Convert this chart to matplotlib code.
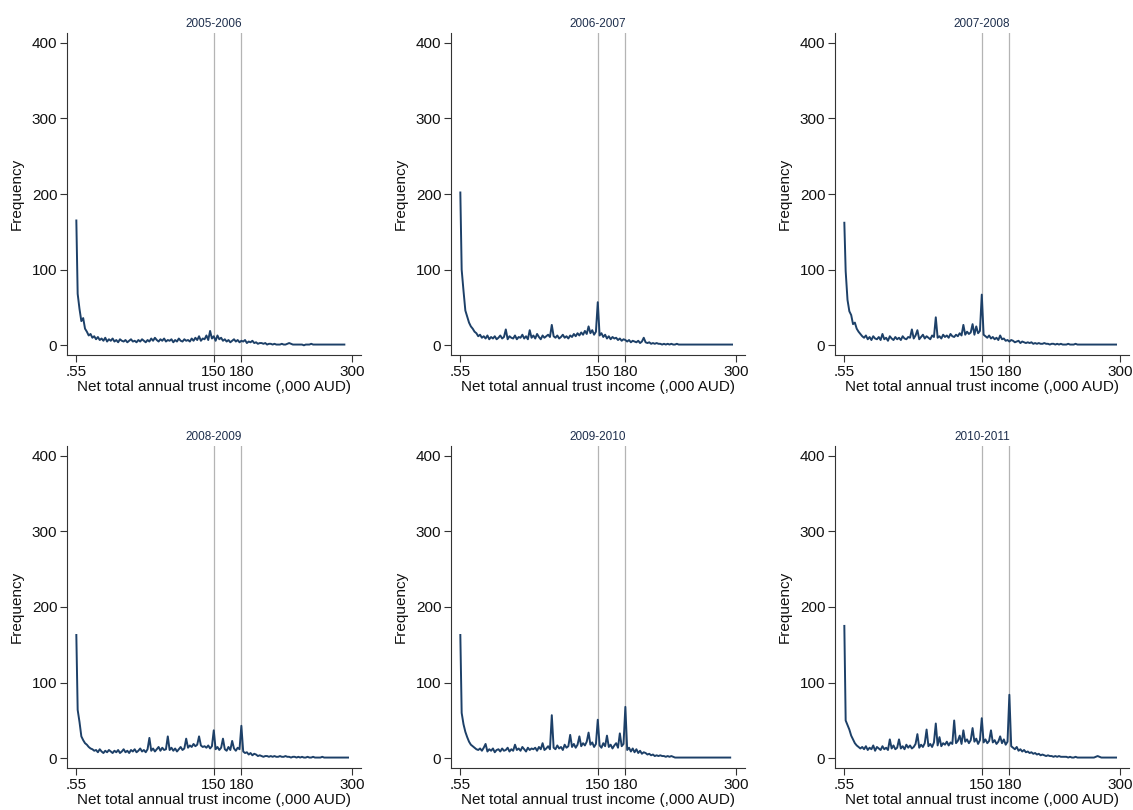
import matplotlib
matplotlib.use("Agg")
import matplotlib.pyplot as plt
import numpy as np

plt.rcParams["font.family"] = ["Liberation Sans", "DejaVu Sans"]

# income bins (,000 AUD): first bin at .55, then every 2
income = np.concatenate([[0.55], np.arange(2, 298, 2)])

years = ["2005-2006", "2006-2007", "2007-2008", "2008-2009", "2009-2010", "2010-2011"]

freq_0506 = [
    165,
    68, 48, 32, 36, 22, 18, 13, 15, 10, 12,
    8, 11, 7, 9, 6, 10, 5, 8, 6, 9,
    5, 7, 4, 8, 6, 5, 7, 4, 6, 8,
    5, 6, 4, 7, 5, 8, 6, 4, 7, 5,
    9, 6, 10, 7, 5, 8, 6, 9, 5, 7,
    6, 8, 4, 7, 5, 9, 6, 5, 8, 6,
    7, 5, 9, 6, 10, 7, 12, 6, 9, 8,
    13, 7, 19, 9, 12, 6, 13, 8, 10, 6,
    8, 5, 7, 4, 6, 8, 5, 7, 4, 6,
    5, 7, 3, 5, 4, 6, 3, 4, 2, 3,
    3, 2, 3, 1, 2, 2, 1, 2, 1, 1,
    1, 2, 1, 1, 2, 3, 2, 1, 1, 1,
    1, 1, 1, 0, 1, 1, 1, 2, 1, 1,
    1, 1, 1, 1, 1, 1, 1, 1, 1, 1,
    1, 1, 1, 1, 1, 1,
]
freq_0607 = [
    202,
    100, 72, 46, 38, 30, 25, 22, 18, 16, 12,
    14, 10, 12, 9, 13, 8, 11, 9, 12, 8,
    10, 13, 9, 11, 21, 8, 12, 10, 9, 13,
    8, 11, 10, 14, 9, 12, 8, 20, 10, 13,
    9, 15, 11, 8, 13, 10, 12, 14, 11, 27,
    12, 10, 13, 9, 11, 14, 10, 12, 9, 13,
    11, 15, 12, 16, 13, 17, 14, 19, 15, 25,
    16, 20, 14, 18, 57, 13, 16, 11, 14, 9,
    12, 8, 11, 9, 10, 7, 9, 6, 8, 7,
    5, 7, 4, 6, 5, 4, 6, 3, 5, 10,
    4, 3, 4, 2, 3, 2, 3, 2, 2, 1,
    2, 1, 2, 1, 2, 1, 1, 2, 1, 1,
    1, 1, 1, 1, 1, 1, 1, 1, 1, 1,
    1, 1, 1, 1, 1, 1, 1, 1, 1, 1,
    1, 1, 1, 1, 1, 1, 1, 1,
]
freq_0708 = [
    162,
    98, 60, 45, 40, 28, 30, 22, 18, 15, 12,
    10, 13, 8, 11, 7, 12, 9, 8, 11, 7,
    15, 8, 10, 6, 12, 9, 7, 11, 8, 10,
    7, 12, 9, 8, 11, 10, 21, 9, 13, 20,
    8, 11, 14, 9, 12, 10, 8, 13, 11, 37,
    10, 12, 9, 14, 11, 13, 10, 15, 12, 11,
    14, 12, 16, 13, 27, 14, 18, 15, 17, 28,
    14, 25, 16, 19, 67, 14, 12, 10, 13, 9,
    11, 8, 10, 7, 13, 8, 9, 6, 7, 5,
    7, 6, 4, 5, 6, 3, 5, 4, 3, 4,
    3, 4, 2, 3, 2, 3, 2, 2, 3, 2,
    2, 1, 2, 2, 1, 2, 1, 2, 1, 1,
    1, 2, 1, 1, 1, 2, 1, 1, 1, 1,
    1, 1, 1, 1, 1, 1, 1, 1, 1, 1,
    1, 1, 1, 1, 1, 1, 1, 1,
]
freq_0809 = [
    163,
    64, 48, 29, 24, 20, 18, 15, 13, 12, 10,
    11, 8, 12, 9, 7, 10, 8, 11, 9, 7,
    10, 8, 11, 7, 9, 12, 8, 10, 7, 11,
    9, 12, 8, 10, 13, 9, 11, 8, 12, 27,
    10, 13, 9, 12, 15, 10, 14, 11, 12, 29,
    11, 14, 10, 13, 9, 12, 15, 11, 13, 26,
    14, 17, 15, 19, 16, 18, 29, 17, 15, 16,
    14, 17, 13, 16, 37, 12, 15, 11, 14, 26,
    12, 10, 15, 11, 23, 13, 10, 14, 12, 43,
    9, 7, 8, 5, 7, 4, 6, 5, 3, 4,
    3, 2, 3, 3, 2, 3, 2, 3, 2, 2,
    3, 2, 2, 3, 2, 2, 1, 2, 2, 1,
    2, 1, 2, 1, 1, 2, 1, 1, 2, 1,
    1, 1, 1, 2, 1, 1, 1, 1, 1, 1,
    1, 1, 1, 1, 1, 1, 1, 1,
]
freq_0910 = [
    163,
    60, 45, 35, 28, 22, 18, 16, 14, 12, 11,
    13, 10, 14, 19, 9, 12, 10, 13, 8, 11,
    12, 9, 13, 10, 11, 14, 9, 12, 10, 18,
    11, 13, 10, 15, 12, 9, 14, 11, 13, 12,
    14, 10, 15, 12, 20, 11, 13, 16, 12, 57,
    14, 12, 17, 13, 15, 11, 18, 14, 16, 31,
    15, 19, 14, 18, 29, 16, 20, 17, 22, 34,
    18, 21, 15, 19, 51, 17, 14, 20, 16, 30,
    15, 18, 13, 17, 20, 14, 33, 16, 19, 68,
    11, 14, 9, 13, 8, 12, 7, 10, 6, 8,
    7, 5, 6, 4, 5, 3, 4, 3, 4, 3,
    3, 2, 3, 2, 3, 2, 1, 1, 1, 1,
    1, 1, 1, 1, 1, 1, 1, 1, 1, 1,
    1, 1, 1, 1, 1, 1, 1, 1, 1, 1,
    1, 1, 1, 1, 1, 1, 1,
]
freq_1011 = [
    175,
    50, 44, 38, 30, 25, 20, 17, 15, 13, 15,
    12, 16, 11, 14, 12, 17, 10, 15, 13, 11,
    16, 12, 14, 11, 25, 13, 17, 12, 14, 25,
    13, 16, 12, 18, 14, 17, 13, 15, 19, 32,
    14, 18, 15, 20, 38, 16, 19, 15, 21, 46,
    17, 28, 16, 20, 18, 22, 17, 21, 19, 50,
    20, 23, 30, 19, 37, 22, 25, 20, 24, 40,
    22, 26, 19, 24, 53, 21, 25, 20, 23, 37,
    21, 24, 19, 22, 29, 20, 25, 18, 22, 84,
    16, 14, 12, 15, 10, 12, 9, 11, 8, 9,
    7, 8, 6, 7, 5, 6, 4, 5, 4, 3,
    4, 3, 3, 2, 3, 2, 3, 2, 2, 2,
    2, 1, 2, 1, 1, 2, 1, 1, 1, 1,
    1, 1, 1, 1, 1, 1, 2, 3, 2, 1,
    1, 1, 1, 1, 1, 1, 1, 1,
]
series = [freq_0506, freq_0607, freq_0708, freq_0809, freq_0910, freq_1011]

x_ticks = [0.55, 150, 180, 300]
x_ticklabels = [".55", "150", "180", "300"]
y_ticks = [0, 100, 200, 300, 400]
cutoffs = [150, 180]

W, H = 1133, 810
fig = plt.figure(figsize=(W / 100, H / 100), dpi=100)

col_left = [67, 451, 835]
row_top = [33, 446]
ax_w, ax_h = 294, 322

for i, (year, freq) in enumerate(zip(years, series)):
    r, c = divmod(i, 3)
    left = col_left[c] / W
    bottom = 1 - (row_top[r] + ax_h) / H
    ax = fig.add_axes([left, bottom, ax_w / W, ax_h / H])

    for cut in cutoffs:
        ax.axvline(cut, color="#b4b4b4", lw=0.9, zorder=1)
    ax.plot(income[: len(freq)], freq, color="#1d4068", lw=1.4, zorder=2)

    ax.set_xlim(-9.6, 310.1)
    ax.set_ylim(-12.8, 412.8)
    ax.set_xticks(x_ticks)
    ax.set_xticklabels(x_ticklabels)
    ax.set_yticks(y_ticks)
    ax.tick_params(labelsize=11, length=5, width=0.8, color="#333333", labelcolor="#111111", pad=2)
    for side in ["top", "right"]:
        ax.spines[side].set_visible(False)
    for side in ["left", "bottom"]:
        ax.spines[side].set_linewidth(0.8)
        ax.spines[side].set_color("#333333")

    ax.set_xlabel("Net total annual trust income (,000 AUD)", fontsize=11, labelpad=1, color="#111111")
    ax.set_ylabel("Frequency", fontsize=11, labelpad=6, color="#111111")
    ax.set_title(year, fontsize=8.5, color="#1e2f4d", pad=4)

fig.savefig("out.png", dpi=100, facecolor="white")
